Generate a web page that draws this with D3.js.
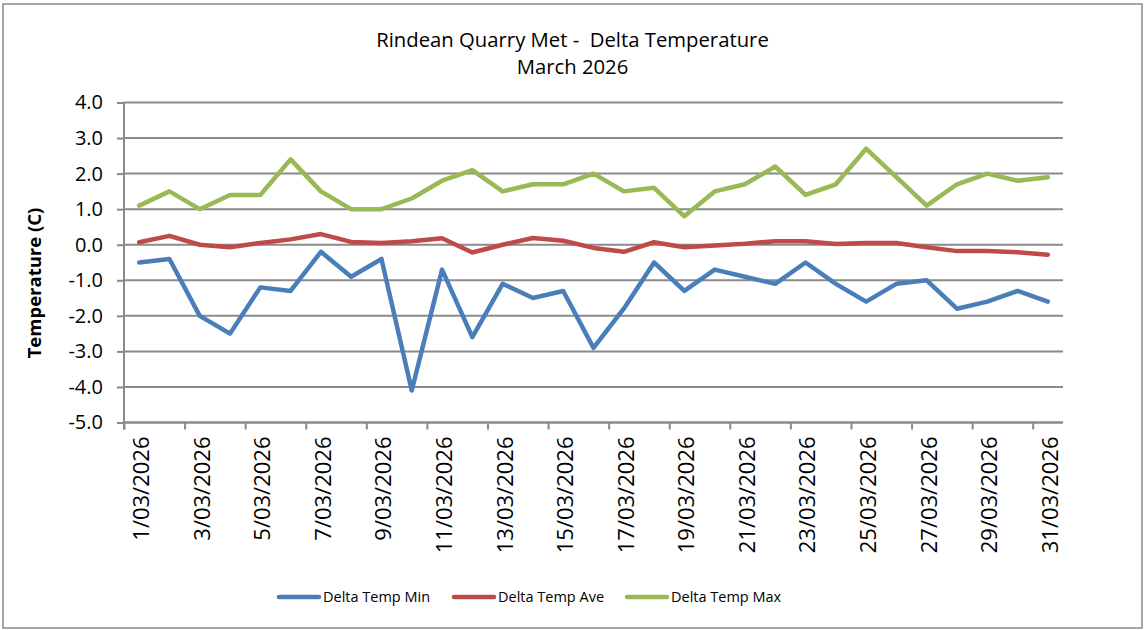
<!DOCTYPE html>
<html>
<head>
<meta charset="utf-8">
<script src="https://cdnjs.cloudflare.com/ajax/libs/d3/7.8.5/d3.min.js"></script>
<style>
body { margin: 0; background: #fff; }
text { font-family: "Open Sans", sans-serif; fill: #000; }
</style>
</head>
<body>
<svg></svg>
<script>
//Data

var days = ["1/03/2026", "2/03/2026", "3/03/2026", "4/03/2026", "5/03/2026", "6/03/2026", "7/03/2026", "8/03/2026",
  "9/03/2026", "10/03/2026", "11/03/2026", "12/03/2026", "13/03/2026", "14/03/2026", "15/03/2026", "16/03/2026",
  "17/03/2026", "18/03/2026", "19/03/2026", "20/03/2026", "21/03/2026", "22/03/2026", "23/03/2026", "24/03/2026",
  "25/03/2026", "26/03/2026", "27/03/2026", "28/03/2026", "29/03/2026", "30/03/2026", "31/03/2026"]

var tempMin = [-0.5, -0.4, -2.0, -2.5, -1.2, -1.3, -0.2, -0.9, -0.4, -4.1,
  -0.7, -2.6, -1.1, -1.5, -1.3, -2.9, -1.8, -0.5, -1.3, -0.7,
  -0.9, -1.1, -0.5, -1.1, -1.6, -1.1, -1.0, -1.8, -1.6, -1.3, -1.6]

var tempAve = [0.07, 0.25, 0.0, -0.07, 0.05, 0.15, 0.3, 0.08, 0.05, 0.1,
  0.18, -0.22, 0.0, 0.19, 0.11, -0.09, -0.2, 0.07, -0.07, -0.02,
  0.03, 0.1, 0.1, 0.02, 0.05, 0.05, -0.07, -0.18, -0.18, -0.21, -0.28]

var tempMax = [1.1, 1.5, 1.0, 1.4, 1.4, 2.4, 1.5, 1.0, 1.0, 1.3,
  1.8, 2.1, 1.5, 1.7, 1.7, 2.0, 1.5, 1.6, 0.8, 1.5,
  1.7, 2.2, 1.4, 1.7, 2.7, 1.9, 1.1, 1.7, 2.0, 1.8, 1.9]

var yTicks = [-5, -4, -3, -2, -1, 0, 1, 2, 3, 4]

var series = [
  {name: "Delta Temp Min", values: tempMin, color: "#4a7ebb"},
  {name: "Delta Temp Ave", values: tempAve, color: "#be4b48"},
  {name: "Delta Temp Max", values: tempMax, color: "#98b954"}
]

var margin = {
  top: 102.5,
  right: 81,
  bottom: 207.5,
  left: 124
}

var width = 1144 - margin.left - margin.right;
var height = 630 - margin.top - margin.bottom;

var svg = d3.select('svg')
  .attr("width", 1144)
  .attr("height", 630)

//outer chart border
svg.append("rect")
  .attr("x", 3)
  .attr("y", 4)
  .attr("width", 1139)
  .attr("height", 624)
  .style("fill", "#fff")
  .style("stroke", "#8a8a8a")
  .style("stroke-width", "1.5px")

//Title
svg.append("text")
  .attr("x", 572.5)
  .attr("y", 46.5)
  .attr("text-anchor", "middle")
  .attr("xml:space", "preserve")
  .style("font-size", "20.3px")
  .text("Rindean Quarry Met -  Delta Temperature")

svg.append("text")
  .attr("x", 572.5)
  .attr("y", 74)
  .attr("text-anchor", "middle")
  .style("font-size", "20.3px")
  .text("March 2026")

var g = svg.append("g")
  .attr("transform", "translate(" + margin.left + "," + margin.top + ")")

//Scales
var xScale = d3.scaleBand().domain(days).range([0, width])
var xIndex = d3.scaleLinear().domain([0, days.length]).range([0, width])
var yScale = d3.scaleLinear().domain([-5, 4]).range([height, 0])

//Gridlines
g.selectAll(".grid")
  .data(yTicks)
  .enter()
  .append("line")
  .attr("class", "grid")
  .attr("x1", 0)
  .attr("x2", width)
  .attr("y1", function(d){return yScale(d)})
  .attr("y2", function(d){return yScale(d)})
  .style("stroke", "#8a8a8a")
  .style("stroke-width", "2px")

//y axis
var yAxis = d3.axisLeft(yScale)
  .tickValues(yTicks)
  .tickSize(7)
  .tickPadding(14)
  .tickFormat(function(d){return d.toFixed(1)})

var yG = g.append("g").call(yAxis)
yG.select(".domain").remove()
yG.selectAll("line").style("stroke", "#8a8a8a").style("stroke-width", "2px")
yG.selectAll("text").style("font-size", "20px").style("font-family", "Open Sans").attr("fill", "#000")

g.append("line")
  .attr("x1", 0).attr("x2", 0)
  .attr("y1", 0).attr("y2", height + 7)
  .style("stroke", "#8a8a8a")
  .style("stroke-width", "2px")

//x axis tick marks every 2 days on the boundaries
var xTickAxis = d3.axisBottom(xIndex)
  .tickValues(d3.range(0, days.length, 2))
  .tickSize(7)
  .tickFormat("")

var xG = g.append("g")
  .attr("transform", "translate(0," + height + ")")
  .call(xTickAxis)
xG.select(".domain").remove()
xG.selectAll("line").style("stroke", "#8a8a8a").style("stroke-width", "2px")

g.append("line")
  .attr("x1", 0).attr("x2", width)
  .attr("y1", height).attr("y2", height)
  .style("stroke", "#8a8a8a")
  .style("stroke-width", "2px")

//x labels
var xLabelAxis = d3.axisBottom(xScale)
  .tickValues(days.filter(function(d, i){return i % 2 == 0}))
  .tickSize(0)
  .tickPadding(0)

var xL = g.append("g")
  .attr("transform", "translate(0," + height + ")")
  .call(xLabelAxis)
xL.select(".domain").remove()
xL.selectAll("text")
  .attr("transform", "rotate(-90)")
  .attr("text-anchor", "end")
  .attr("x", -14)
  .attr("y", 2)
  .attr("dy", "0.36em")
  .attr("dx", 0)
  .attr("fill", "#000")
  .style("font-size", "22px")
  .style("font-family", "Open Sans")

//y axis title
svg.append("text")
  .attr("transform", "translate(41,283) rotate(-90)")
  .attr("text-anchor", "middle")
  .style("font-size", "18.5px")
  .style("font-weight", "bold")
  .text("Temperature (C)")

//Lines
var line = d3.line()
  .x(function(d, i){return xScale(days[i]) + xScale.bandwidth() / 2})
  .y(function(d){return yScale(d)})

g.selectAll(".series")
  .data(series)
  .enter()
  .append("path")
  .attr("class", "series")
  .attr("d", function(d){return line(d.values)})
  .style("fill", "none")
  .style("stroke", function(d){return d.color})
  .style("stroke-width", "4.5px")
  .style("stroke-linejoin", "round")
  .style("stroke-linecap", "round")

//Legend
var legendX = [279, 454, 627]

var legend = svg.selectAll(".legend")
  .data(series)
  .enter()
  .append("g")
  .attr("class", "legend")
  .attr("transform", function(d, i){return "translate(" + legendX[i] + ",597)"})

legend.append("line")
  .attr("x1", 0).attr("x2", 40)
  .attr("y1", 0).attr("y2", 0)
  .style("stroke", function(d){return d.color})
  .style("stroke-width", "4.5px")
  .style("stroke-linecap", "round")

legend.append("text")
  .attr("x", 44)
  .attr("y", 0)
  .attr("dy", "0.35em")
  .style("font-size", "14.5px")
  .text(function(d){return d.name})
</script>
</body>
</html>
